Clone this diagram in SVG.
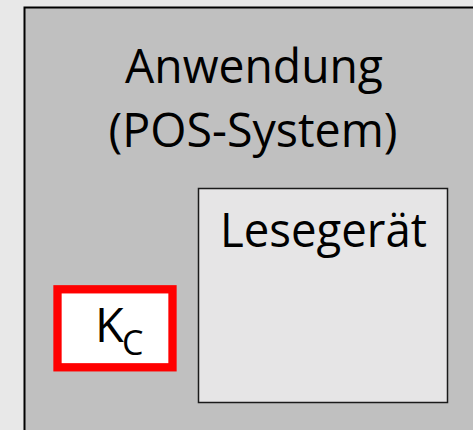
<svg xmlns="http://www.w3.org/2000/svg" width="473" height="430" viewBox="0 0 473 430">
<style>
text{font-family:"Open Sans","Noto Sans","DejaVu Sans",sans-serif;fill:#000;}
.big{font-size:47px;}
</style>
<rect x="0" y="0" width="473" height="430" fill="#e8e8e8"/>
<g id="anwendung">
<rect x="24.5" y="7.5" width="460" height="440" fill="#c0c0c0" stroke="#000" stroke-width="2"/>
<text class="big" x="254" y="83" text-anchor="middle" textLength="258" lengthAdjust="spacingAndGlyphs">Anwendung</text>
<text class="big" x="253" y="147" text-anchor="middle" textLength="289" lengthAdjust="spacingAndGlyphs">(POS-System)</text>
</g>
<g id="lesegeraet">
<rect x="198.5" y="188.5" width="249" height="214" fill="#e6e5e6" stroke="#1a1a1a" stroke-width="1.5"/>
<text class="big" x="323.5" y="247" text-anchor="middle" textLength="207" lengthAdjust="spacingAndGlyphs">Lesegerät</text>
</g>
<g id="kc">
<rect x="57.5" y="289.3" width="115" height="78" fill="#fff" stroke="#ff0000" stroke-width="8.3"/>
<text class="big" x="95" y="342">K<tspan x="122" y="355" font-size="34">C</tspan></text>
</g>
<g id="connectors"></g>
</svg>
